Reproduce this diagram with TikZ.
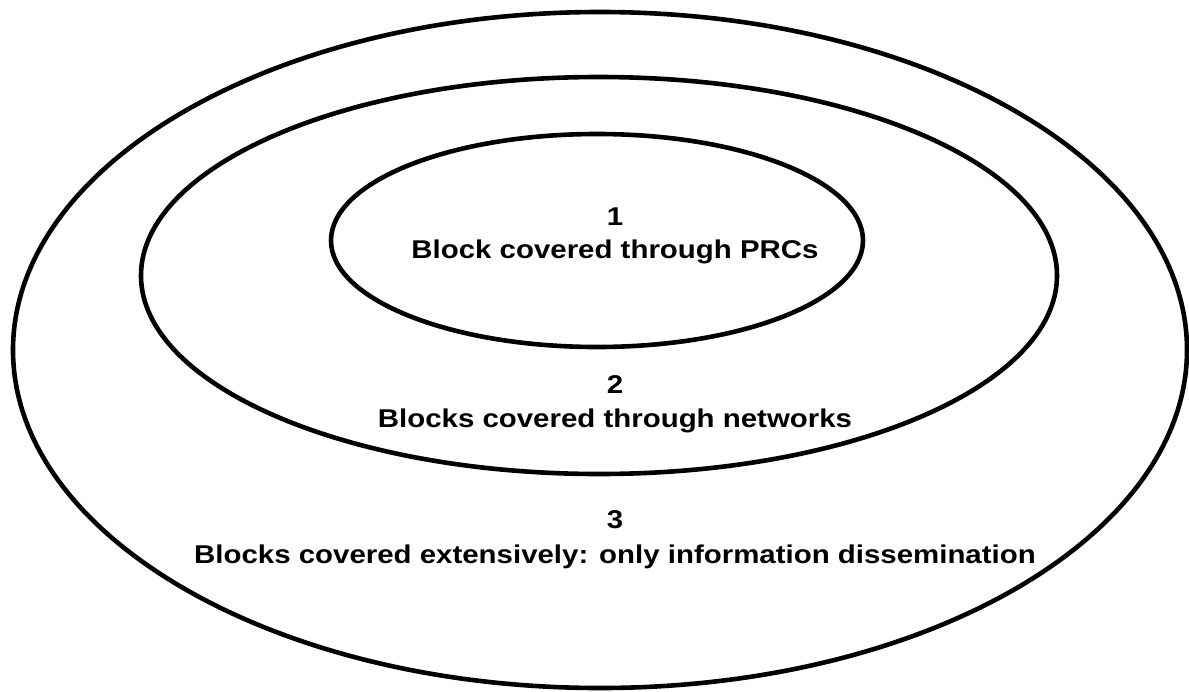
\documentclass[tikz,border=0pt]{standalone}
\usepackage{fontspec}
\setmainfont{Liberation Sans}[FakeStretch=1.145]
\usepackage{tikz}
\usetikzlibrary{positioning}

\tikzset{
  ring/.style={line width=4.6pt},
  ringtext/.style={inner sep=0pt,anchor=base,font=\fontsize{25.7}{34}\selectfont\bfseries}
}

\begin{document}
\begin{tikzpicture}[x=1pt,y=-1pt]
\useasboundingbox (0,0) rectangle (1189,691);
% the three rings, inside out
\draw[ring] (597,240.5) ellipse [x radius=266,y radius=106.5];
\draw[ring] (599,275.5) ellipse [x radius=458,y radius=198.5];
\draw[ring] (600,350) ellipse [x radius=587,y radius=338];
% labels
\node[ringtext] (n1) at (615,225) {1};
\node[ringtext] (t1) at (615,258) {Block covered through PRCs};
\node[ringtext] (n2) at (615,393) {2};
\node[ringtext] (t2) at (615,427) {Blocks covered through networks};
\node[ringtext] (n3) at (615,528) {3};
\node[ringtext] (t3) at (615,563) {Blocks covered extensively: only information dissemination};
\end{tikzpicture}
\end{document}
